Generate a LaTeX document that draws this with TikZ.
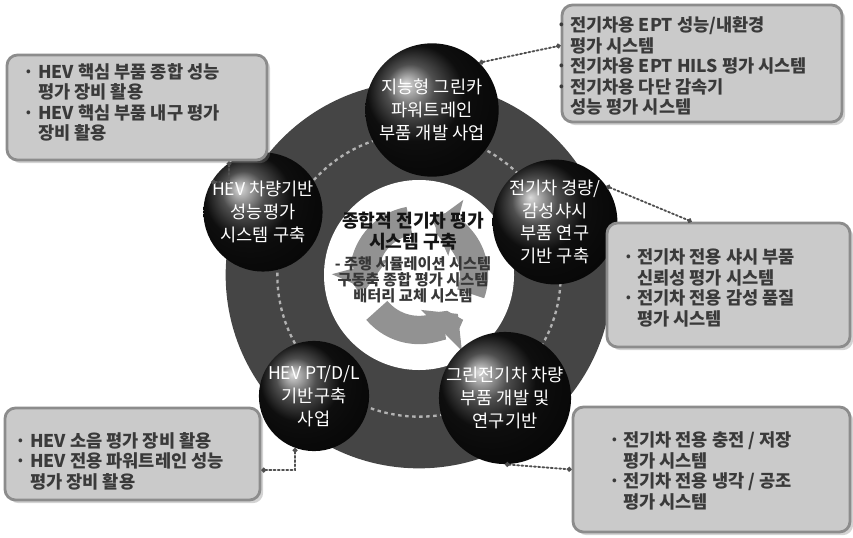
\documentclass[tikz,border=0pt]{standalone}
\usepackage{fontspec}
\setmainfont{Noto Sans CJK KR}
\usetikzlibrary{positioning,calc,shadows,arrows.meta}
\definecolor{ink}       {HTML}{141414}
\definecolor{ringgray}  {HTML}{454545}
\definecolor{panelfill} {HTML}{CACACA}
\definecolor{panelline} {HTML}{8C8C8C}
\definecolor{panelink}  {HTML}{3A3A3A}
\definecolor{arrowgray} {HTML}{929292}
\definecolor{softink}   {HTML}{505050}
\tikzset{
  >=stealth,
  % --- nodes
  ball/.style    = {circle, shading=ball, ball color=ink, text=white, align=center,
                    inner sep=0pt, font=\fontsize{15}{19.5}\selectfont},
  panel/.style   = {rounded corners=9pt, draw=panelline, line width=2.4pt, fill=panelfill,
                    drop shadow={opacity=0.35}},
  ptext/.style   = {align=left, anchor=west, inner sep=0pt, text=panelink,
                    font=\fontsize{15}{17.5}\selectfont\bfseries},
  hubtext/.style = {align=center, text=ink, inner sep=0pt, font=\fontsize{15.5}{18.5}\selectfont\bfseries},
  subtext/.style = {align=center, text=ink!85, inner sep=0pt, font=\fontsize{13}{13.5}\selectfont\bfseries},
  % --- edges
  link/.style    = {dotted, line width=1.6pt, draw=softink, line cap=round,
                    {Circle[length=4pt]}-{Circle[length=4pt]}},
  cyc/.style     = {line width=0.85cm, draw=arrowgray, -{Triangle[length=0.7cm,width=1.7cm]}},
}
\newcommand\itm[1]{\makebox[0pt][r]{·\hspace{3pt}}#1}

\begin{document}
\begin{tikzpicture}[x=0.03cm,y=-0.03cm]
  \useasboundingbox (0,0) rectangle (853,537);

  % ring and hub
  \coordinate (hub) at (419,275);
  \fill[ringgray] (hub) circle[radius=5.8cm];
  \draw[gray!60, line width=2pt, dashed] (hub) circle[radius=4.25cm];
  \fill[white] (hub) circle[radius=2.85cm];
  \foreach \a in {100,220,340}
    \draw[cyc] ($(hub)+(\a:1.65cm)$) arc[start angle=\a, delta angle=95, radius=1.65cm];
  \node[hubtext] (hubt) at (413,231) {종합적 전기차 평가\\시스템 구축};
  \node[subtext, below=5pt of hubt] (hubs) {- 주행 시뮬레이션 시스템\\구동축 종합 평가 시스템\\배터리 교체 시스템};

  % the five balls
  \node[ball, minimum size=4.0cm] (tb)  at (432,110) {지능형 그린카\\파워트레인\\부품 개발 사업};
  \node[ball, minimum size=3.2cm] (lb)  at (263,212) {HEV 차량기반\\성능평가\\시스템 구축};
  \node[ball, minimum size=3.5cm] (rtb) at (555,222) {전기차 경량/\\감성샤시\\부품 연구\\기반 구축};
  \node[ball, minimum size=3.2cm] (blb) at (314,396) {HEV PT/D/L\\기반구축\\사업};
  \node[ball, minimum size=3.6cm] (brb) at (505,398) {그린전기차 차량\\부품 개발 및\\연구기반};

  % panels
  \node[panel, minimum width=8.4cm,  minimum height=3.51cm] (tr)   at (702,63.5) {};
  \node[panel, minimum width=7.8cm,  minimum height=3.15cm] (tl)   at (137,107.5) {};
  \node[panel, minimum width=7.29cm, minimum height=3.72cm] (rbox) at (728.5,285) {};
  \node[panel, minimum width=7.65cm, minimum height=2.76cm] (bl)   at (132.5,454) {};
  \node[panel, minimum width=8.31cm, minimum height=3.75cm] (br)   at (711.5,469.5) {};

  \node[ptext] (trt) at (570,66) {\itm{전기차용 EPT 성능/내환경}\\평가 시스템\\\itm{전기차용 EPT HILS 평가 시스템}\\\itm{전기차용 다단 감속기}\\성능 평가 시스템};
  \node[ptext] (tlt) at (38,102.5) {\itm{HEV 핵심 부품 종합 성능}\\평가 장비 활용\\\itm{HEV 핵심 부품 내구 평가}\\장비 활용};
  \node[ptext] (rt)  at (637,288) {\itm{전기차 전용 샤시 부품}\\신뢰성 평가 시스템\\\itm{전기차 전용 감성 품질}\\평가 시스템};
  \node[ptext] (blt) at (30,461) {\itm{HEV 소음 평가 장비 활용}\\\itm{HEV 전용 파워트레인 성능}\\평가 장비 활용};
  \node[ptext] (brt) at (623,471) {\itm{전기차 전용 충전 / 저장}\\평가 시스템\\\itm{전기차 전용 냉각 / 공조}\\평가 시스템};

  % dotted links
  \draw[link] (tb.north east) -- ($(tr.north west)!0.35!(tr.south west)$);
  \draw[link] (lb.150) -| ($(tl.south west)!0.85!(tl.south east)$);
  \draw[link] (rtb.35) -- ($(rbox.north west)!0.35!(rbox.north east)$);
  \draw[link] (blb.250) |- ($(bl.north east)!0.67!(bl.south east)$);
  \draw[link] (brb.south) -- ($(br.north west)!0.5!(br.south west)$);
\end{tikzpicture}
\end{document}
